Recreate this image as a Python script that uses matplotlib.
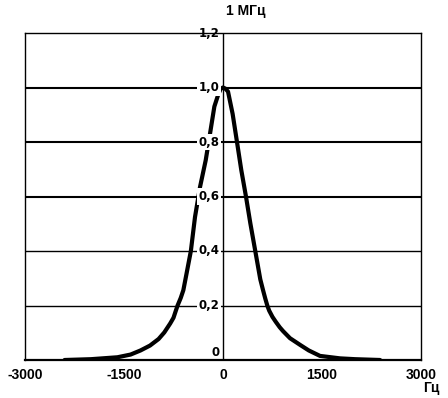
import matplotlib
matplotlib.use("Agg")
import matplotlib.pyplot as plt

plt.rcParams['font.family'] = ['Liberation Sans', 'DejaVu Sans']

# Data (frequency offset in Hz, relative level)
freq = [-2400, -2000, -1600, -1400, -1250, -1106, -976, -890, -800, -750, -720, -688,
        -640, -601, -550, -487, -424, -348, -262, -197, -131, -71, -35, 0,
        35, 76, 146, 212, 277, 348, 414, 489, 565, 607, 640, 671, 700, 750, 800,
        860, 910, 1015, 1171, 1300, 1470, 1773, 2000, 2380]
level = [0.0, 0.003, 0.01, 0.02, 0.035, 0.053, 0.077, 0.101, 0.134, 0.155, 0.177, 0.2,
         0.228, 0.256, 0.32, 0.4, 0.525, 0.635, 0.733, 0.83, 0.93, 0.975, 0.995, 1.0,
         0.996, 0.985, 0.903, 0.8, 0.697, 0.6, 0.502, 0.4, 0.296, 0.256, 0.226, 0.2, 0.181, 0.158, 0.14,
         0.12, 0.106, 0.08, 0.055, 0.035, 0.015, 0.006, 0.003, 0.0]

x_ticks = [-3000, -1500, 0, 1500, 3000]
x_labels = ["-3000", "-1500", "0", "1500", "3000"]
y_ticks = [0, 0.2, 0.4, 0.6, 0.8, 1.0, 1.2]
y_labels = ["0", "0,2", "0,4", "0,6", "0,8", "1,0", "1,2"]
bold_grid = [0.6, 0.8, 1.0]
thin_grid = [0.2, 0.4]

title = "1 МГц"
x_unit = "Гц"

fig = plt.figure(figsize=(4.48, 3.98), dpi=100)
ax = fig.add_axes([25/448, 38/398, 396/448, 327/398])

ax.set_xlim(-3000, 3000)
ax.set_ylim(0, 1.2)

for y in bold_grid:
    ax.axhline(y, color='black', lw=1.5, zorder=1)
for y in thin_grid:
    ax.axhline(y, color='black', lw=1.0, zorder=1)

ax.plot(freq, level, color='black', lw=3.0, solid_capstyle='round',
        solid_joinstyle='round', zorder=2)

for y, lab in zip(y_ticks, y_labels):
    va = 'bottom' if y == 0 else 'center'
    dy = 1 if y == 0 else 0
    ax.annotate(lab, xy=(0, y), xytext=(-2.5, dy), textcoords='offset points',
                ha='right', va=va, fontsize=8.5, fontweight='bold',
                family=['DejaVu Sans'], color='black', zorder=3,
                bbox=dict(facecolor='white', edgecolor='none', pad=1.3),
                annotation_clip=False)

ax.axvline(0, color='black', lw=1.0, zorder=4)

ax.set_xticks(x_ticks)
ax.set_xticklabels(x_labels, fontsize=10, fontweight='bold')
ax.set_yticks([])
ax.tick_params(axis='x', length=0, pad=6)

for side in ['left', 'right', 'top']:
    ax.spines[side].set_linewidth(1.0)
ax.spines['bottom'].set_linewidth(1.6)
for s in ax.spines.values():
    s.set_zorder(5)

fig.text(226/448, 1 - 11/398, title, ha='left', va='center',
         fontsize=10, fontweight='bold')
fig.text(439/448, 1 - 388/398, x_unit, ha='right', va='center',
         fontsize=10, fontweight='bold')

fig.savefig("out.png", dpi=100, facecolor='white')
